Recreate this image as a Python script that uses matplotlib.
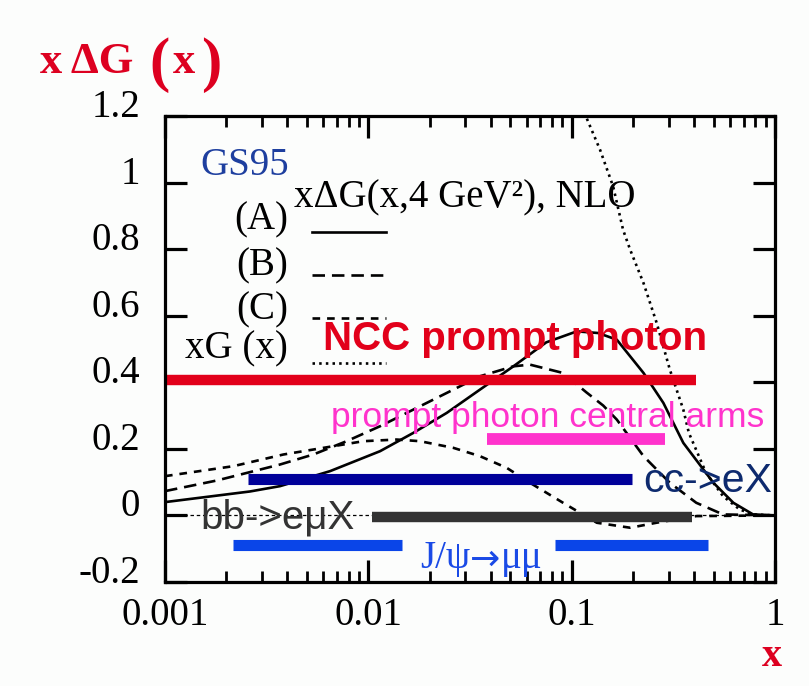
#import the required
import matplotlib
matplotlib.use('Agg')
import matplotlib.pyplot as plt
from matplotlib.lines import Line2D
from matplotlib.ticker import FixedLocator, LogLocator, NullFormatter
from matplotlib import transforms

#curves (GS95 xDeltaG sets A, B, C and unpolarized xG)
x_A = [0.001, 0.00262, 0.00368, 0.00648, 0.01142, 0.01665, 0.0243, 0.0354, 0.0517, 0.075,
       0.106, 0.135, 0.1667, 0.2256, 0.2825, 0.354, 0.498, 0.624, 0.78, 1.0]
y_A = [0.040, 0.072, 0.088, 0.133, 0.193, 0.248, 0.308, 0.378, 0.448, 0.52,
       0.553, 0.548, 0.528, 0.428, 0.338, 0.218, 0.098, 0.038, 0.003, 0.0]

x_B = [0.001, 0.0018, 0.00368, 0.00536, 0.00782, 0.01142, 0.01665, 0.0243, 0.0354, 0.0517,
       0.0624, 0.0907, 0.118, 0.143, 0.1667, 0.2256, 0.304, 0.41, 0.555, 1.0]
y_B = [0.073, 0.105, 0.153, 0.183, 0.223, 0.268, 0.318, 0.368, 0.418, 0.448,
       0.453, 0.428, 0.37, 0.33, 0.288, 0.178, 0.098, 0.038, 0.003, 0.0]

x_C = [0.001, 0.00217, 0.00382, 0.00601, 0.00945, 0.01378, 0.01796, 0.0262, 0.0354, 0.0479,
       0.0624, 0.0907, 0.133, 0.194, 0.261, 0.41, 1.0]
y_C = [0.118, 0.148, 0.183, 0.203, 0.223, 0.228, 0.223, 0.203, 0.178, 0.143,
       0.098, 0.038, -0.022, -0.037, -0.022, -0.002, 0.0]

x_G = [0.115, 0.1186, 0.138, 0.160, 0.179, 0.194, 0.2256, 0.262, 0.304, 0.354,
       0.377, 0.458, 0.555, 0.67, 0.78, 1.0]
y_G = [1.21, 1.193, 1.098, 0.988, 0.858, 0.798, 0.698, 0.578, 0.438, 0.318,
       0.248, 0.128, 0.058, 0.018, 0.003, 0.0]

#x coverage of each measurement (y level, x from, x to)
ncc_bar = [0.408, 0.001, 0.41]
central_bar = [0.231, 0.0382, 0.288]
cc_bar = [0.11, 0.00257, 0.197]
bb_bar = [-0.006, 0.0104, 0.39]
jpsi_bars = [[-0.09, 0.00217, 0.0146], [-0.09, 0.0828, 0.47]]

x_ticks = [0.001, 0.01, 0.1, 1]
x_labels = ['0.001', '0.01', '0.1', '1']
y_ticks = [-0.2, 0, 0.2, 0.4, 0.6, 0.8, 1.0, 1.2]
y_labels = ['-0.2', '0', '0.2', '0.4', '0.6', '0.8', '1', '1.2']

W, H = 809, 686
plt.rcParams['lines.scale_dashes'] = False
serif = ['Liberation Serif', 'DejaVu Serif']
sans = ['Liberation Sans', 'DejaVu Sans']

fig = plt.figure(figsize=(W / 100, H / 100), dpi=100, facecolor='#fcfdfc')
ax = fig.add_axes([165 / W, 1 - 582 / H, (775 - 165) / W, (582 - 116) / H])
ax.set_facecolor('#fcfdfc')

def fx(px, py):
    #pixel position (from top left) -> figure fraction
    return px / W, 1 - py / H

#zero line
ax.axhline(0, color='black', lw=0.9, dashes=(2.5, 2))

#curves
lw = 1.9
ax.plot(x_A, y_A, color='black', lw=lw)
ax.plot(x_B, y_B, color='black', lw=lw, dashes=(9, 5))
ax.plot(x_C, y_C, color='black', lw=lw, dashes=(5.5, 5))
ax.plot(x_G, y_G, color='black', lw=lw, dashes=(1.8, 3))

#kinematic coverage bars
ax.hlines(ncc_bar[0], ncc_bar[1], ncc_bar[2], color='#e2001a', lw=7.5)
ax.hlines(central_bar[0], central_bar[1], central_bar[2], color='#ff33cc', lw=8.5)
ax.hlines(cc_bar[0], cc_bar[1], cc_bar[2], color='#000099', lw=8)
ax.hlines(bb_bar[0], bb_bar[1], bb_bar[2], color='#333333', lw=7.5)
for b in jpsi_bars:
    ax.hlines(b[0], b[1], b[2], color='#0a45e8', lw=8)

ax.set_xscale('log')
ax.set_xlim(0.001, 1)
ax.set_ylim(-0.2, 1.2)
ax.xaxis.set_major_locator(FixedLocator(x_ticks))
ax.set_xticklabels(x_labels)
ax.xaxis.set_minor_locator(LogLocator(base=10, subs=range(2, 10)))
ax.xaxis.set_minor_formatter(NullFormatter())
ax.yaxis.set_major_locator(FixedLocator(y_ticks))
ax.set_yticklabels(y_labels)

for s in ax.spines.values():
    s.set_linewidth(2.3)
ax.tick_params(which='major', direction='in', length=16, width=2.3, top=True, right=True,
               labelsize=28, pad=11)
ax.tick_params(which='minor', direction='in', length=8, width=2, top=True)
ax.tick_params(axis='y', which='major', pad=18)
for lbl in ax.get_xticklabels() + ax.get_yticklabels():
    lbl.set_family(serif)
#y labels sit a bit higher than their ticks
shift = transforms.ScaledTranslation(0, 13 / 100, fig.dpi_scale_trans)
for lbl in ax.get_yticklabels():
    lbl.set_transform(lbl.get_transform() + shift)

#legend block
fig.text(*fx(200, 175), 'GS95', color='#1e3f9f', fontsize=28, family=serif, va='baseline')
fig.text(*fx(294, 207), 'x\u0394G(x,4 GeV\u00b2), NLO', color='black', fontsize=28, family=serif, va='baseline')
names = ['(A)', '(B)', '(C)', 'xG (x)']
name_y = [229, 275, 319, 358]
line_y = [232, 275, 318, 363]
styles = [None, (9, 5), (5.5, 5), (1.8, 3)]
for n, ty, ly, d in zip(names, name_y, line_y, styles):
    fig.text(*fx(288, ty), n, color='black', fontsize=28, family=serif, ha='right', va='baseline')
    x0, y0 = fx(312, ly)
    x1, _ = fx(386, ly)
    ln = Line2D([x0, x1], [y0, y0], color='black', lw=lw, transform=fig.transFigure)
    if d is not None:
        ln.set_dashes(d)
    fig.add_artist(ln)

#measurement labels
fig.text(*fx(323, 350), 'NCC prompt photon', color='#e2001a', fontsize=29, fontweight='bold',
         family=sans, va='baseline')
fig.text(*fx(331, 427), 'prompt photon central arms', color='#ff33cc', fontsize=25.5,
         family=sans, va='baseline')
fig.text(*fx(643, 492), 'cc->eX', color='#0d2a6e', fontsize=29.5, family=sans, va='baseline')
fig.text(*fx(200, 529), 'bb->e\u03bcX', color='#333333', fontsize=29, family=sans, va='baseline')
jblue = '#1a4ae6'
t1 = fig.text(*fx(420, 568), 'J/\u03c8', color=jblue, fontsize=28, family=serif, va='baseline')
ax.annotate('\u2192', xy=(1, 0), xycoords=t1, color=jblue, fontsize=26,
            family=['DejaVu Sans'], va='bottom', ha='left', annotation_clip=False)
ax.annotate('\u03bc\u03bc', xy=(1, 0), xycoords=t1, xytext=(22, 0), textcoords='offset points',
            color=jblue, fontsize=28, family=serif, va='bottom', ha='left', annotation_clip=False)

#axis titles
red = '#dd0020'
fig.text(*fx(40, 73), 'x \u0394G', color=red, fontsize=32, fontweight='bold', family=serif, va='baseline')
fig.text(*fx(149, 80), '(', color=red, fontsize=44, fontweight='bold', family=serif, va='baseline')
fig.text(*fx(173, 73), 'x', color=red, fontsize=32, fontweight='bold', family=serif, va='baseline')
fig.text(*fx(201, 80), ')', color=red, fontsize=44, fontweight='bold', family=serif, va='baseline')
fig.text(*fx(772, 656), 'x', color=red, fontsize=29, fontweight='bold', family=serif,
         ha='center', va='center')

plt.savefig('out.png', dpi=100, facecolor=fig.get_facecolor())
